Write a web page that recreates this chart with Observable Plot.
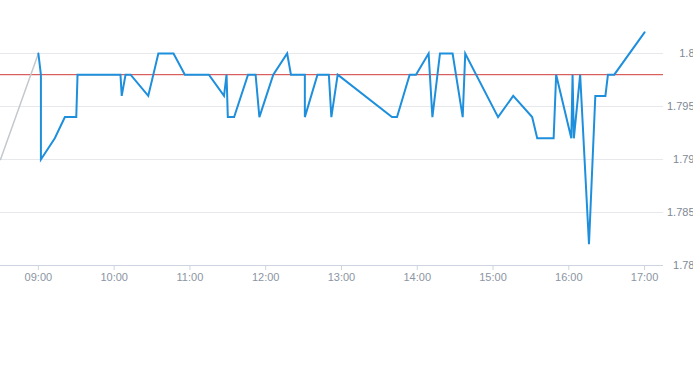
<!DOCTYPE html>
<html>
<head>
<meta charset="utf-8">
<script src="https://cdn.jsdelivr.net/npm/d3@7"></script>
<script src="https://cdn.jsdelivr.net/npm/@observablehq/plot@0.6"></script>
<style>
  html, body { margin: 0; padding: 0; background: #fff; }
  #chart svg { display: block; }
</style>
</head>
<body>
<div id="chart"></div>
<script>
// Intraday price series
const times = ["09:00","09:02","09:02","09:13","09:21","09:30","09:31","10:05","10:06","10:09","10:13","10:27","10:35","10:47","10:56","11:15","11:27","11:29","11:30","11:35","11:46","11:52","11:55","12:06","12:17","12:20","12:31","12:31","12:41","12:50","12:52","12:57","13:40","13:44","13:54","13:59","14:09","14:12","14:18","14:28","14:36","14:38","15:04","15:16","15:31","15:35","15:48","15:50","16:02","16:03","16:04","16:09","16:16","16:21","16:29","16:31","16:36","17:00"];
const prices = [1.8,1.798,1.79,1.792,1.794,1.794,1.798,1.798,1.796,1.798,1.798,1.796,1.8,1.8,1.798,1.798,1.796,1.798,1.794,1.794,1.798,1.798,1.794,1.798,1.8,1.798,1.798,1.794,1.798,1.798,1.794,1.798,1.794,1.794,1.798,1.798,1.8,1.794,1.8,1.8,1.794,1.8,1.794,1.796,1.794,1.792,1.792,1.798,1.792,1.798,1.792,1.798,1.782,1.796,1.796,1.798,1.798,1.802];

// Pre-open segment (grey)
const preTimes = ["08:30","09:00"];
const preValues = [1.79, 1.8];

// Reference level (red line)
const refLevel = 1.798;

// Axes
const xDomain = ["08:30","17:15"];
const xTicks = ["09:00","10:00","11:00","12:00","13:00","14:00","15:00","16:00","17:00"];
const yTicks = [1.78, 1.785, 1.79, 1.795, 1.8];

const toDate = s => { const [h, m] = s.split(":").map(Number); return new Date(2020, 0, 1, h, m); };

const main = times.map((t, i) => ({t: toDate(t), v: prices[i]}));
const pre = preTimes.map((t, i) => ({t: toDate(t), v: preValues[i]}));

const chart = Plot.plot({
  width: 693,
  height: 365,
  marginLeft: 0,
  marginRight: 30,
  marginTop: 53,
  marginBottom: 100,
  style: {fontFamily: "'Liberation Sans', Arial, sans-serif", fontSize: "11px", background: "#fff"},
  x: {type: "time", domain: xDomain.map(toDate)},
  y: {domain: [1.78, 1.8]},
  marks: [
    Plot.gridY(yTicks, {stroke: "#e6e8eb", strokeOpacity: 1}),
    Plot.ruleY([1.78], {stroke: "#ccd5df", strokeWidth: 1}),
    Plot.axisX(xTicks.map(toDate), {
      tickSize: 5, tickPadding: 3, stroke: "#ccd5df", fill: "#8b95a3",
      tickFormat: d3.timeFormat("%H:%M"), label: null, fontSize: 11
    }),
    Plot.axisY(yTicks, {
      anchor: "right", tickSize: 0, tickPadding: 3, textAnchor: "end", dx: 28,
      fill: "#7d8894", tickFormat: d => String(+d.toFixed(3)), label: null, fontSize: 11
    }),
    Plot.ruleY([refLevel], {stroke: "#d03b3b", strokeWidth: 1}),
    Plot.line(pre, {x: "t", y: "v", stroke: "#c3c8cd", strokeWidth: 1.5}),
    Plot.line(main, {x: "t", y: "v", stroke: "#1e8fdc", strokeWidth: 2, strokeLinejoin: "miter", strokeMiterlimit: 4})
  ]
});
document.getElementById("chart").appendChild(chart);
</script>
</body>
</html>
